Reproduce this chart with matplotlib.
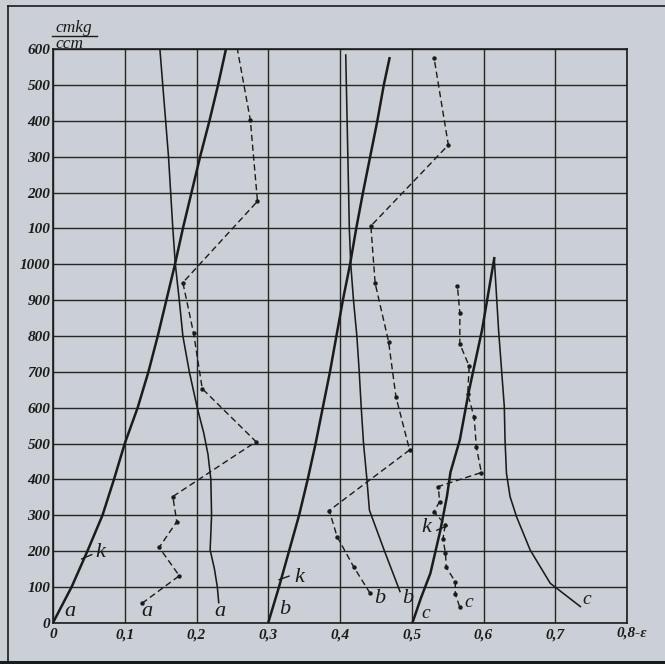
import matplotlib
matplotlib.use("Agg")
import matplotlib.pyplot as plt
from matplotlib.lines import Line2D

# ---------------- data (strain e, stress v in cmkg/ccm) ----------------
a_heavy_e = [0.0, 0.026, 0.048, 0.069, 0.085, 0.100, 0.118, 0.133, 0.146, 0.158, 0.170, 0.181, 0.193, 0.205, 0.218, 0.230, 0.241]
a_heavy_v = [0, 100, 200, 300, 400, 500, 600, 700, 800, 900, 1000, 1100, 1200, 1300, 1400, 1500, 1600]

a_thin_e = [0.231, 0.229, 0.225, 0.219, 0.220, 0.221, 0.220, 0.216, 0.210, 0.201, 0.190, 0.181, 0.176, 0.1705, 0.167, 0.164, 0.161, 0.157, 0.153, 0.149]
a_thin_v = [56, 100, 150, 203, 250, 300, 400, 470, 530, 600, 700, 800, 900, 1000, 1100, 1200, 1300, 1400, 1500, 1600]

a_dash_e = [0.124, 0.176, 0.148, 0.1725, 0.167, 0.283, 0.208, 0.196, 0.181, 0.285, 0.275, 0.257]
a_dash_v = [54, 131, 210, 282, 352, 505, 653, 807, 949, 1176, 1403, 1600]

b_heavy_e = [0.300, 0.315, 0.329, 0.343, 0.355, 0.366, 0.376, 0.386, 0.395, 0.404, 0.414, 0.4226, 0.432, 0.442, 0.452, 0.461, 0.469]
b_heavy_v = [0, 100, 200, 300, 400, 500, 600, 700, 800, 900, 1000, 1100, 1200, 1300, 1400, 1500, 1575]

b_thin_e = [0.4836, 0.462, 0.441, 0.4375, 0.4328, 0.4296, 0.4268, 0.4235, 0.4188, 0.415, 0.413, 0.412, 0.408]
b_thin_v = [87, 200, 314, 400, 500, 600, 700, 800, 900, 1000, 1100, 1200, 1584]

b_dash_e = [0.442, 0.419, 0.396, 0.385, 0.497, 0.478, 0.4677, 0.449, 0.443, 0.551, 0.531]
b_dash_v = [82, 156, 240, 313, 482, 630, 784, 947, 1107, 1333, 1577]

c_rise_e = [0.501, 0.513, 0.526, 0.540, 0.549, 0.554, 0.567, 0.579, 0.598, 0.615]
c_rise_v = [0, 70, 138, 259, 352, 420, 510, 640, 817, 1017]

c_fall_e = [0.615, 0.621, 0.629, 0.630, 0.632, 0.637, 0.646, 0.665, 0.693, 0.735]
c_fall_v = [1017, 817, 603, 510, 417, 352, 296, 203, 110, 45]

c_dash_e = [0.5667, 0.5607, 0.5607, 0.548, 0.547, 0.5435, 0.5467, 0.531, 0.5388, 0.537, 0.597, 0.590, 0.587, 0.578, 0.580, 0.567, 0.567, 0.5636]
c_dash_v = [45, 80, 114, 155, 194, 234, 273, 310, 338, 380, 419, 491, 573, 638, 716, 778, 865, 940]

x_ticks = [0.0, 0.1, 0.2, 0.3, 0.4, 0.5, 0.6, 0.7, 0.8]
x_labels = ["0", "0,1", "0,2", "0,3", "0,4", "0,5", "0,6", "0,7", ""]
y_ticks = list(range(0, 1700, 100))
y_labels = ["0", "100", "200", "300", "400", "500", "600", "700", "800", "900",
            "1000", "100", "200", "300", "400", "500", "600"]

# ---------------- figure ----------------
W, H = 665, 664
BG = "#cad0d6"
INK = "#1b1b1b"
SERIF = ["Liberation Serif", "DejaVu Serif"]

fig = plt.figure(figsize=(W / 100, H / 100), dpi=100, facecolor=BG)
L, R, T, B = 53, 627, 49.3, 622.7
ax = fig.add_axes([L / W, 1 - B / H, (R - L) / W, (B - T) / H])
ax.set_facecolor(BG)
ax.set_xlim(0, 0.8)
ax.set_ylim(0, 1600)

for s in ax.spines.values():
    s.set_color(INK)
    s.set_linewidth(1.2)

ax.set_xticks(x_ticks)
ax.set_xticklabels(x_labels)
ax.set_yticks(y_ticks)
ax.set_yticklabels(y_labels)
ax.tick_params(length=0)
TICKFS = 11
for lab in ax.get_xticklabels() + ax.get_yticklabels():
    lab.set_fontfamily(SERIF); lab.set_fontstyle("italic"); lab.set_fontsize(TICKFS)
    lab.set_color(INK); lab.set_fontweight("bold")
ax.tick_params(axis="x", pad=4)
ax.tick_params(axis="y", pad=2)

ax.grid(True, color="#262626", linewidth=1.0)
ax.set_axisbelow(True)

heavy = dict(color=INK, linewidth=1.8, solid_joinstyle="round")
thin = dict(color=INK, linewidth=1.15)
dash = dict(color=INK, linewidth=1.0, linestyle=(0, (4.5, 2.6)),
            marker="o", markersize=3.2, markerfacecolor=INK, markeredgewidth=0)

ax.plot(a_heavy_e, a_heavy_v, **heavy)
ax.plot(a_thin_e, a_thin_v, **thin)
ax.plot(a_dash_e, a_dash_v, markevery=list(range(len(a_dash_e) - 1)), **dash)

ax.plot(b_heavy_e, b_heavy_v, **heavy)
ax.plot(b_thin_e, b_thin_v, **thin)
ax.plot(b_dash_e, b_dash_v, **dash)

ax.plot(c_rise_e, c_rise_v, **heavy)
ax.plot(c_fall_e, c_fall_v, **thin)
ax.plot(c_dash_e, c_dash_v, **dash)

# k marks (short ticks across the curves)
for (x0, y0, x1, y1) in [(0.040, 178, 0.054, 190), (0.315, 120, 0.329, 130), (0.535, 258, 0.549, 270)]:
    ax.plot([x0, x1], [y0, y1], color=INK, linewidth=1.0)

lab_kw = dict(family=SERIF, style="italic", fontsize=16, color=INK)
ax.text(0.0585, 195, "k", va="center", ha="left", **lab_kw)
ax.text(0.337, 127, "k", va="center", ha="left", **lab_kw)
ax.text(0.513, 267, "k", va="center", ha="left", **lab_kw)

ax.text(0.024, 30, "a", va="center", ha="center", **lab_kw)
ax.text(0.131, 30, "a", va="center", ha="center", **lab_kw)
ax.text(0.233, 30, "a", va="center", ha="center", **lab_kw)
ax.text(0.323, 38, "b", va="center", ha="center", **lab_kw)
ax.text(0.455, 68, "b", va="center", ha="center", **lab_kw)
ax.text(0.494, 68, "b", va="center", ha="center", **lab_kw)
small = dict(lab_kw); small["fontsize"] = 14
ax.text(0.519, 26, "c", va="center", ha="center", **small)
ax.text(0.579, 56, "c", va="center", ha="center", **small)
ax.text(0.744, 65, "c", va="center", ha="center", **small)

# x axis end label
fig.text(616 / W, 1 - 633 / H, "0,8-ε", ha="left", va="center",
         family=SERIF, style="italic", fontsize=TICKFS, fontweight="bold", color=INK)

# unit label
fig.text(55 / W, 1 - 28 / H, "cmkg", ha="left", va="center",
         family=SERIF, style="italic", fontsize=12.5, color=INK)
fig.text(55 / W, 1 - 44 / H, "ccm", ha="left", va="center",
         family=SERIF, style="italic", fontsize=12.5, color=INK)
fig.add_artist(Line2D([52 / W, 97 / W], [1 - 35.5 / H, 1 - 35.5 / H], color=INK, linewidth=1.0))

# outer frame of the plate
fig.add_artist(Line2D([8 / W, 8 / W], [1 - 6 / H, 1 - 662 / H], color=INK, linewidth=1.2))
fig.add_artist(Line2D([8 / W, 1.0], [1 - 6 / H, 1 - 6 / H], color=INK, linewidth=1.2))
fig.add_artist(Line2D([0.0, 1.0], [1 - 662 / H, 1 - 662 / H], color=INK, linewidth=2.2))

fig.savefig("out.png", dpi=100, facecolor=BG)
